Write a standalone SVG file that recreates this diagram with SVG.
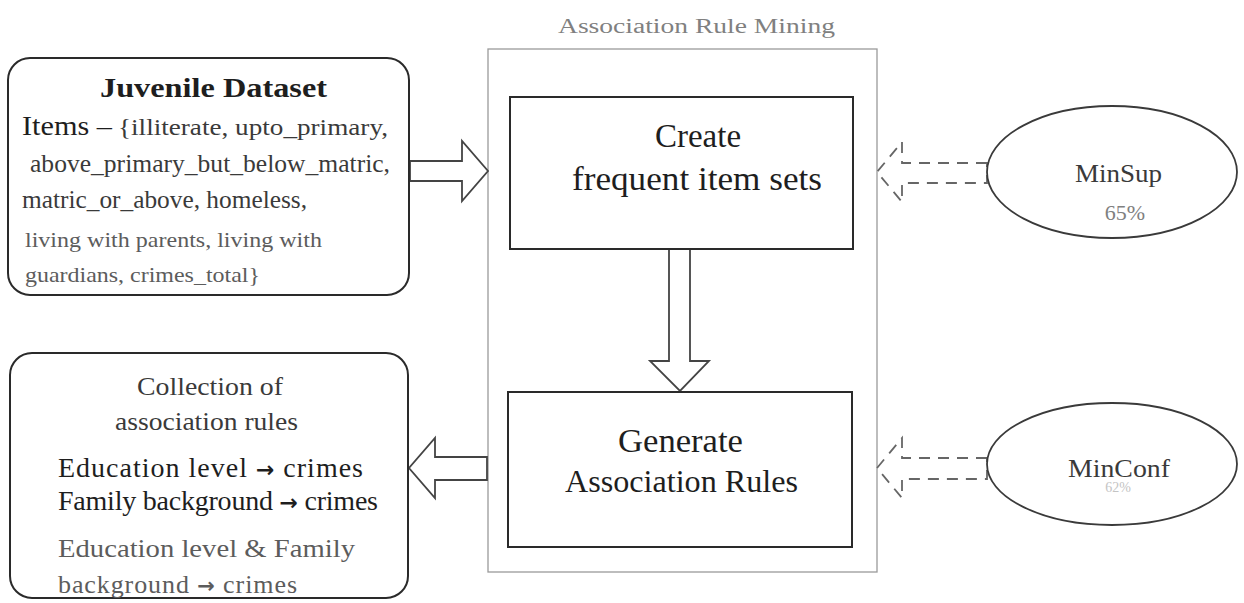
<svg xmlns="http://www.w3.org/2000/svg" width="1244" height="603" viewBox="0 0 1244 603">
  <style>
    text { font-family: "Liberation Serif", "Times New Roman", serif; }
    .box { fill: #fff; stroke: #2a2a2a; stroke-width: 2; }
    .frame { fill: none; stroke: #9a9a9a; stroke-width: 1.3; }
    .oval { fill: #fff; stroke: #3a3a3a; stroke-width: 1.8; }
    .block { fill: #fff; stroke: #444; stroke-width: 1.8; stroke-linejoin: miter; }
    .dashed { fill: none; stroke: #666; stroke-width: 1.8; stroke-dasharray: 11 8; }
    .dark { fill: #1e1e1e; }
    .mid { fill: #3a3a3a; }
    .soft { fill: #5c5c5c; }
    .pale { fill: #808080; }
    .faint { fill: #c4c4c4; }
    .arw { font-family: "DejaVu Sans", sans-serif; font-weight: bold; }
  </style>

  <!-- Association Rule Mining container -->
  <g id="mining">
    <rect class="frame" x="488" y="49" width="389" height="523"/>
    <text class="pale" x="558" y="33" font-size="20" textLength="277" lengthAdjust="spacingAndGlyphs">Association Rule Mining</text>
  </g>

  <!-- Connectors -->
  <g id="connectors">
    <!-- dataset into mining -->
    <polygon class="block" points="410,161 462,161 462,141 488,171 462,201 462,181 410,181"/>
    <!-- frequent item sets to rule generation -->
    <polygon class="block" points="669,249 669,361 650,361 680,391 709,361 690,361 690,249"/>
    <!-- mining out to rule collection -->
    <polygon class="block" points="487,457 435,457 435,438 409,468 435,498 435,480 487,480"/>
    <!-- threshold inputs -->
    <polygon class="dashed" points="987,163 902,163 902,142 877,172 902,202 902,183 987,183"/>
    <polygon class="dashed" points="987,458 902,458 902,438 877,468 902,498 902,479 987,479"/>
  </g>

  <!-- Input dataset -->
  <g id="dataset">
    <rect class="box" x="8" y="58" width="401" height="237" rx="22" ry="22"/>
    <text class="dark" x="100" y="97" font-size="27" font-weight="bold" textLength="227" lengthAdjust="spacingAndGlyphs">Juvenile Dataset</text>
    <text class="dark" x="22" y="135" font-size="27" textLength="90" lengthAdjust="spacingAndGlyphs">Items –</text>
    <text class="mid" x="118" y="135" font-size="23" textLength="270" lengthAdjust="spacingAndGlyphs">{illiterate, upto_primary,</text>
    <text class="mid" x="30" y="172" font-size="25" textLength="360" lengthAdjust="spacingAndGlyphs">above_primary_but_below_matric,</text>
    <text class="mid" x="22" y="208" font-size="25" textLength="285" lengthAdjust="spacingAndGlyphs">matric_or_above, homeless,</text>
    <text class="soft" x="25" y="247" font-size="22" textLength="297" lengthAdjust="spacingAndGlyphs">living with parents, living with</text>
    <text class="soft" x="25" y="282" font-size="22" textLength="235" lengthAdjust="spacingAndGlyphs">guardians, crimes_total}</text>
  </g>

  <!-- Output rules -->
  <g id="rules">
    <rect class="box" x="10" y="353" width="398" height="245" rx="22" ry="22"/>
    <text class="mid" x="137" y="395" font-size="25" textLength="146" lengthAdjust="spacingAndGlyphs">Collection of</text>
    <text class="mid" x="115" y="430" font-size="25" textLength="183" lengthAdjust="spacingAndGlyphs">association rules</text>
    <text class="dark" x="58" y="477" font-size="28" textLength="305" lengthAdjust="spacing">Education level <tspan class="arw" font-size="22">→</tspan> crimes</text>
    <text class="dark" x="58" y="510" font-size="28" textLength="320" lengthAdjust="spacing">Family background <tspan class="arw" font-size="22">→</tspan> crimes</text>
    <text class="soft" x="58" y="557" font-size="26" textLength="297" lengthAdjust="spacingAndGlyphs">Education level &amp; Family</text>
    <text class="soft" x="58" y="593" font-size="26" textLength="239" lengthAdjust="spacing">background <tspan class="arw" font-size="21">→</tspan> crimes</text>
  </g>

  <!-- Step 1 -->
  <g id="frequent-sets">
    <rect class="box" x="510" y="97" width="343" height="152"/>
    <text class="dark" x="698" y="147" font-size="33" text-anchor="middle">Create</text>
    <text class="dark" x="572" y="190" font-size="33" textLength="250" lengthAdjust="spacingAndGlyphs">frequent item sets</text>
  </g>

  <!-- Step 2 -->
  <g id="generate-rules">
    <rect class="box" x="508" y="392" width="344" height="155"/>
    <text class="dark" x="618" y="452" font-size="33" textLength="125" lengthAdjust="spacingAndGlyphs">Generate</text>
    <text class="dark" x="565" y="492" font-size="31" textLength="233" lengthAdjust="spacingAndGlyphs">Association Rules</text>
  </g>

  <!-- Support threshold -->
  <g id="minsup">
    <ellipse class="oval" cx="1112" cy="172" rx="125" ry="66"/>
    <text class="mid" x="1075" y="182" font-size="25" textLength="87" lengthAdjust="spacingAndGlyphs">MinSup</text>
    <text class="pale" x="1125" y="220" font-size="22" text-anchor="middle">65%</text>
  </g>

  <!-- Confidence threshold -->
  <g id="minconf">
    <ellipse class="oval" cx="1112" cy="464" rx="125" ry="61"/>
    <text class="mid" x="1068" y="477" font-size="25" textLength="102" lengthAdjust="spacingAndGlyphs">MinConf</text>
    <text class="faint" x="1118" y="492" font-size="14" text-anchor="middle">62%</text>
  </g>
</svg>
